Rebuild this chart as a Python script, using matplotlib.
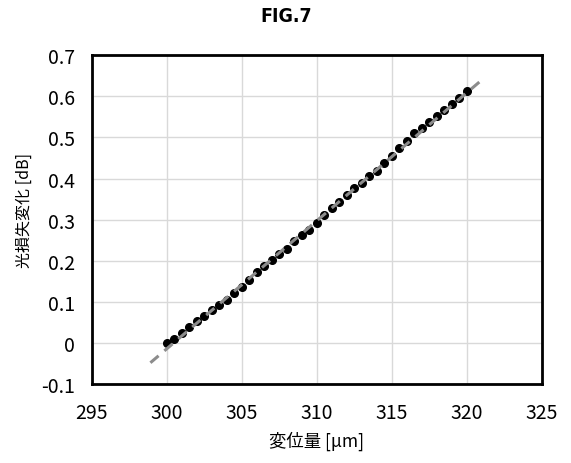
import matplotlib
matplotlib.use("Agg")
import matplotlib.pyplot as plt

plt.rcParams['font.family'] = ['Noto Sans CJK JP', 'DejaVu Sans']

# 変位量 [um] と 光損失変化 [dB]
disp_um = [300.0, 300.5, 301.0, 301.5, 302.0, 302.5, 303.0, 303.5, 304.0, 304.5,
           305.0, 305.5, 306.0, 306.5, 307.0, 307.5, 308.0, 308.5, 309.0, 309.5,
           310.0, 310.5, 311.0, 311.5, 312.0, 312.5, 313.0, 313.5, 314.0, 314.5,
           315.0, 315.5, 316.0, 316.5, 317.0, 317.5, 318.0, 318.5, 319.0, 319.5,
           320.0]
loss_db = [0.000, 0.010, 0.024, 0.039, 0.054, 0.066, 0.080, 0.093, 0.105, 0.121,
           0.136, 0.153, 0.172, 0.187, 0.201, 0.216, 0.229, 0.248, 0.263, 0.275,
           0.293, 0.311, 0.329, 0.344, 0.360, 0.376, 0.390, 0.406, 0.419, 0.437,
           0.455, 0.473, 0.492, 0.510, 0.524, 0.538, 0.553, 0.566, 0.580, 0.596,
           0.612]

# 近似直線 (破線)
fit_x = [298.9, 321.1]
fit_y = [-0.048, 0.643]

xticks = [295, 300, 305, 310, 315, 320, 325]
yticks = [-0.1, 0, 0.1, 0.2, 0.3, 0.4, 0.5, 0.6, 0.7]
ytick_labels = ['-0.1', '0', '0.1', '0.2', '0.3', '0.4', '0.5', '0.6', '0.7']

fig = plt.figure(figsize=(5.71, 4.64), dpi=100)
ax = fig.add_axes([0.161, 0.170, 0.788, 0.709])

ax.plot(disp_um, loss_db, 'o', color='black', markersize=5.5, zorder=3)
ax.plot(fit_x, fit_y, color='#8c8c8c', linewidth=2.2, dashes=(3.5, 2.5), zorder=4)

ax.set_xlim(295, 325)
ax.set_ylim(-0.1, 0.7)
ax.set_xticks(xticks)
ax.set_yticks(yticks)
ax.set_yticklabels(ytick_labels)
ax.tick_params(length=0, labelsize=14)
ax.tick_params(axis='x', pad=13)
ax.tick_params(axis='y', pad=12)
ax.grid(True, color='#d9d9d9', linewidth=1.0)
ax.set_axisbelow(True)
for s in ax.spines.values():
    s.set_linewidth(2)
    s.set_color('black')

ax.set_xlabel('変位量 [μm]', fontsize=12.5, labelpad=5)
ax.set_ylabel('光損失変化 [dB]', fontsize=11.5, va='center')
ax.yaxis.set_label_coords(-0.150, 0.53)

fig.text(286 / 571, 1 - 17 / 464, 'FIG.7', ha='center', va='center',
         fontsize=14, fontweight='bold', fontstretch='condensed',
         family=['DejaVu Sans Condensed', 'DejaVu Sans'])

fig.savefig('out.png', dpi=100)
